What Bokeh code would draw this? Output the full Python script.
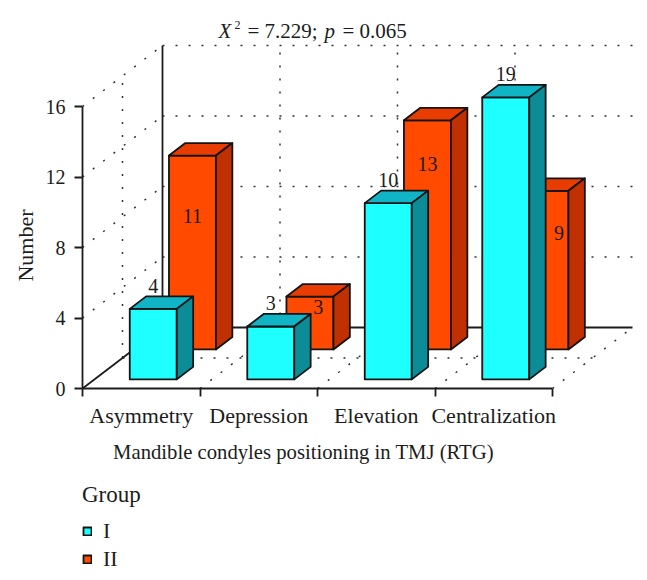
from math import pi
from bokeh.plotting import figure
from bokeh.models import Range1d, FixedTicker, Legend, LegendItem
from bokeh.core.properties import value
from bokeh.embed import file_html
from bokeh.resources import INLINE

# ---- data
categories = ["Asymmetry", "Depression", "Elevation", "Centralization"]
group_I = [4, 3, 10, 19]
group_II = [11, 3, 13, 9]
group_names = ["I", "II"]
y_ticks = [0, 4, 8, 12, 16]
y_max = 16  # the axis stops here, and a taller bar is cut off at it
II_label_levels = [7.6, 2.4, 10.55, 6.6]  # heights at which group II's numbers sit
II_label_shift = [0, 0.07, 0, 0.12]       # sideways nudge of those numbers, in categories

FONT = "Liberation Serif"
INK = "#1c1c1c"
W, H = 640, 575
PX_X = 117.5   # pixels per category
PX_Y = 17.625  # pixels per unit
DEPTH_X = 80 / PX_X
DEPTH_Y = 61 / PX_Y
ORIGIN_X, ORIGIN_Y = 82, 388


def project(x, v, z):
    return x + z * DEPTH_X, v + z * DEPTH_Y


def page(px, py):
    return (px - ORIGIN_X) / PX_X, (ORIGIN_Y - py) / PX_Y


p = figure(width=W, height=H,
           x_range=Range1d(page(0, 0)[0], page(W, 0)[0]),
           y_range=Range1d(page(0, H)[1], page(0, 0)[1]),
           output_backend="svg", toolbar_location=None,
           min_border_left=0, min_border_right=0, min_border_top=0, min_border_bottom=0)
p.outline_line_color = None
p.grid.visible = False
p.background_fill_color = "white"

# ---- dotted walls and floor
n = len(categories)
dots_x, dots_y = [], []


def seg(a, b):
    dots_x.append([a[0], b[0]])
    dots_y.append([a[1], b[1]])


for t in y_ticks[1:]:
    seg(project(0, t, 0), project(0, t, 1))
    seg(project(0, t, 1), project(n, t, 1))
for c in range(1, n):
    seg(project(c, 0, 1), project(c, y_max, 1))
for c in range(1, n + 1):
    seg(project(c, 0, 0), project(c, 0, 1))
seg(project(0, 0, 0.5), project(0, y_max, 0.5))
seg(project(0, 0, 0.5), project(n, 0, 0.5))
p.multi_line(dots_x, dots_y, line_color="#333333", line_width=1.5, line_dash="2 11")

# ---- solid back edges
edges = [(project(0, 0, 0), project(0, 0, 1)),
         (project(0, 0, 1), project(0, y_max, 1)),
         (project(0, 0, 1), project(n, 0, 1))]
p.multi_line([[a[0], b[0]] for a, b in edges], [[a[1], b[1]] for a, b in edges],
             line_color=INK, line_width=1.8)

# ---- bars
HALF = 0.2


def bars(vals, z0, z1, front, top, side):
    fx, fy, tx, ty, sx, sy = [], [], [], [], [], []
    for i, raw in enumerate(vals):
        v = min(raw, y_max)
        l, r = i + 0.5 - HALF, i + 0.5 + HALF
        q = [project(l, 0, z0), project(r, 0, z0), project(r, v, z0), project(l, v, z0)]
        fx.append([a[0] for a in q]); fy.append([a[1] for a in q])
        q = [project(l, v, z0), project(r, v, z0), project(r, v, z1), project(l, v, z1)]
        tx.append([a[0] for a in q]); ty.append([a[1] for a in q])
        q = [project(r, 0, z0), project(r, 0, z1), project(r, v, z1), project(r, v, z0)]
        sx.append([a[0] for a in q]); sy.append([a[1] for a in q])
    kw = dict(line_color="#141414", line_width=1.8, line_join="round")
    rf = p.patches(fx, fy, fill_color=front, **kw)
    p.patches(tx, ty, fill_color=top, **kw)
    p.patches(sx, sy, fill_color=side, **kw)
    return rf


r_II = bars(group_II, 0.64, 0.845, "#FF4A00", "#E83C00", "#C03000")
r_I = bars(group_I, 0.15, 0.355, "#1EFFFF", "#10B4C4", "#0B8C96")

# ---- value labels
lx, ly, lt = [], [], []
for i, v in enumerate(group_II):
    a = project(i + 0.5 + II_label_shift[i], II_label_levels[i], 0.64)
    lx.append(a[0]); ly.append(a[1]); lt.append(str(v))
for i, v in enumerate(group_I):
    a = project(i + 0.5, min(v, y_max), 0.15)
    lx.append(a[0]); ly.append(a[1] + 23 / PX_Y); lt.append(str(v))
p.text(lx, ly, text=lt, text_font=value(FONT), text_font_size="20px", text_color=INK,
       text_align="center", text_baseline="middle")

# ---- statistic line above the chart
pieces = [("X", 218, 30, "italic", "21px"), ("2", 234, 24, "normal", "12px"),
          ("= 7.229;", 247, 30, "normal", "21px"), ("p", 324, 30, "italic", "21px"),
          ("= 0.065", 342, 30, "normal", "21px")]
for txt, px, py, style, size in pieces:
    a = page(px, py)
    p.text([a[0]], [a[1]], text=[txt], text_font=value(FONT), text_font_style=style,
           text_font_size=size, text_color=INK, text_align="left", text_baseline="alphabetic")

# ---- axes
ax = p.yaxis[0]
ax.fixed_location = 0
ax.ticker = FixedTicker(ticks=y_ticks)
ax.bounds = (0, y_max)
ax.major_label_text_font = FONT
ax.major_label_text_font_size = "20px"
ax.major_label_text_color = INK
ax.major_label_standoff = 9
ax.major_tick_out = 8
ax.major_tick_in = 0
ax.minor_tick_out = 0
ax.minor_tick_in = 0
ax.axis_line_color = INK
ax.major_tick_line_color = INK
ax.axis_line_width = 1.8
ax.major_tick_line_width = 1.8

bx = p.xaxis[0]
bx.fixed_location = 0
centers = [i + 0.5 for i in range(n)]
bx.ticker = FixedTicker(ticks=centers, minor_ticks=list(range(n + 1)))
bx.major_label_overrides = {c: name for c, name in zip(centers, categories)}
bx.bounds = (0, n)
bx.major_tick_out = 0
bx.major_tick_in = 0
bx.minor_tick_out = 8
bx.minor_tick_in = 0
bx.axis_line_color = INK
bx.minor_tick_line_color = INK
bx.axis_line_width = 1.8
bx.minor_tick_line_width = 1.8
bx.major_label_text_font = FONT
bx.major_label_text_font_size = "22px"
bx.major_label_text_color = INK
bx.major_label_standoff = 6

# ---- axis titles
a = page(303, 451)
p.text([a[0]], [a[1]], text=["Mandible condyles positioning in TMJ (RTG)"],
       text_font=value(FONT), text_font_size="20.7px", text_color=INK,
       text_align="center", text_baseline="middle")
a = page(25, 245)
p.text([a[0]], [a[1]], text=["Number"], angle=pi / 2,
       text_font=value(FONT), text_font_size="22px", text_color=INK,
       text_align="center", text_baseline="middle")

# ---- legend
legend = Legend(items=[LegendItem(label=group_names[0], renderers=[r_I]),
                       LegendItem(label=group_names[1], renderers=[r_II])],
                title="Group", location=(ORIGIN_X, H - 572), orientation="vertical",
                border_line_color=None, background_fill_alpha=0,
                margin=0, padding=0, spacing=2, glyph_width=10, glyph_height=10,
                label_standoff=11, label_text_font=FONT, label_text_font_size="22px",
                label_text_color=INK, title_text_font=FONT, title_text_font_style="normal",
                title_text_font_size="23px", title_text_color=INK, title_standoff=10)
p.add_layout(legend, "center")

open("out.html", "w").write(file_html(p, INLINE))
